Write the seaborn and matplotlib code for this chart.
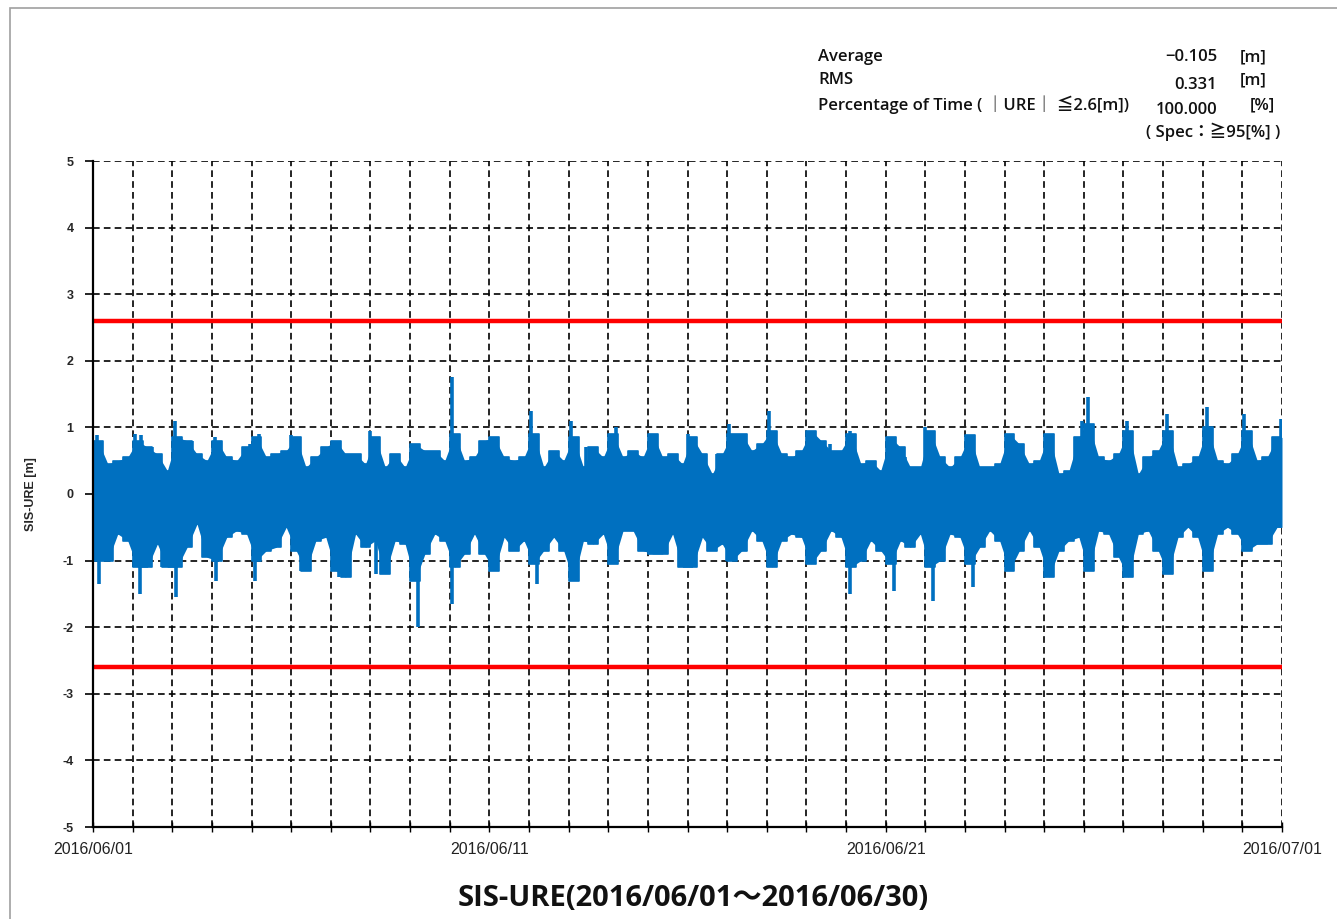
import numpy as np
import pandas as pd
import matplotlib
matplotlib.use("Agg")
import matplotlib.pyplot as plt
import matplotlib.dates as mdates
from matplotlib.patches import Rectangle
import seaborn as sns

# ---------------- data ----------------
start_date = "2016-06-01"
end_date = "2016-07-01"
# upper envelope of SIS-URE per 6-hour block, days 1..30
upper = [
    0.80, 0.45, 0.50, 0.55,   0.80, 0.70, 0.60, 0.35,   0.85, 0.80, 0.60, 0.50,
    0.80, 0.55, 0.50, 0.70,   0.85, 0.55, 0.60, 0.65,   0.85, 0.40, 0.55, 0.70,
    0.80, 0.60, 0.60, 0.45,   0.85, 0.40, 0.60, 0.40,   0.75, 0.65, 0.65, 0.50,
    0.90, 0.50, 0.55, 0.80,   0.85, 0.55, 0.50, 0.55,   0.90, 0.40, 0.65, 0.50,
    0.85, 0.40, 0.70, 0.55,   0.90, 0.55, 0.65, 0.55,   0.90, 0.55, 0.60, 0.45,
    0.85, 0.60, 0.30, 0.60,   0.90, 0.90, 0.65, 0.75,   0.95, 0.60, 0.55, 0.65,
    0.95, 0.80, 0.65, 0.65,   0.90, 0.45, 0.50, 0.35,   0.85, 0.70, 0.40, 0.40,
    0.95, 0.55, 0.40, 0.55,   0.88, 0.40, 0.40, 0.45,   0.90, 0.75, 0.45, 0.50,
    0.90, 0.30, 0.35, 0.85,   1.05, 0.55, 0.50, 0.60,   0.95, 0.30, 0.55, 0.65,
    0.95, 0.40, 0.45, 0.55,   1.00, 0.50, 0.45, 0.60,   0.95, 0.50, 0.55, 0.85,
]
# lower envelope of SIS-URE per 6-hour block
lower = [
    -1.00, -1.00, -0.60, -0.70,  -1.10, -1.10, -0.75, -1.10,  -1.10, -0.80, -0.45, -0.95,
    -1.00, -0.65, -0.55, -0.60,  -1.00, -0.85, -0.80, -0.50,  -0.85, -1.15, -0.70, -0.65,
    -1.15, -1.25, -0.60, -0.80,  -0.70, -1.20, -0.70, -0.75,  -1.30, -0.90, -0.60, -0.70,
    -1.10, -0.90, -0.60, -0.90,  -1.15, -0.65, -0.85, -0.70,  -1.05, -0.85, -0.65, -0.85,
    -1.30, -0.70, -0.75, -0.60,  -1.05, -0.55, -0.55, -0.85,  -0.90, -0.90, -0.60, -1.10,
    -1.10, -0.65, -0.85, -0.75,  -1.00, -0.85, -0.55, -0.70,  -1.10, -0.70, -0.60, -0.65,
    -1.05, -0.85, -0.55, -0.65,  -1.10, -1.00, -0.70, -0.85,  -1.05, -0.70, -0.80, -0.60,
    -1.10, -1.00, -0.60, -0.65,  -1.05, -0.80, -0.55, -0.70,  -1.15, -0.85, -0.55, -0.80,
    -1.25, -0.85, -0.70, -0.65,  -1.15, -0.55, -0.60, -0.95,  -1.25, -0.60, -0.55, -0.85,
    -1.20, -0.65, -0.50, -0.65,  -1.15, -0.60, -0.50, -0.60,  -0.85, -0.75, -0.75, -0.50,
]
# narrow spikes: day offset from start and value
spike_days = [0.10, 1.05, 1.20, 1.48, 2.07, 2.49, 3.07, 3.96, 4.20, 5.00, 5.80,
              6.20, 7.00, 8.15, 8.60, 9.05, 9.95, 11.05, 11.70, 12.05, 12.45,
              13.20, 13.60, 15.00, 15.74, 16.05, 16.30, 17.05, 18.60, 19.10,
              20.50, 21.00, 23.25, 24.95, 25.10, 26.10, 27.10, 28.10, 29.05, 29.97,
              0.15, 1.18, 1.73, 2.10, 3.10, 4.10, 5.25, 6.20, 7.15, 8.20, 9.05,
              10.10, 11.20, 12.20, 14.95, 16.00, 17.05, 18.05, 19.10, 20.20,
              21.20, 22.20, 23.05, 24.05, 25.20, 26.20, 27.15, 28.05]
spike_vals = [0.88, 0.90, 0.88, 0.70, 1.10, 0.80, 0.85, 0.75, 0.90, 0.88, 0.70,
              0.80, 0.95, 0.75, 0.65, 1.75, 0.80, 1.25, 0.65, 1.10, 0.70,
              1.00, 0.65, 0.90, 0.60, 1.05, 0.90, 1.25, 0.75, 0.95,
              0.55, 1.00, 0.75, 1.10, 1.45, 1.10, 1.20, 1.30, 1.20, 1.12,
              -1.35, -1.50, -1.10, -1.55, -1.30, -1.30, -1.15, -1.25, -1.20, -2.00,
              -1.65, -1.15, -1.35, -1.30, -1.10, -1.00, -1.10, -1.05, -1.50, -1.45,
              -1.60, -1.40, -1.15, -1.25, -1.15, -1.25, -1.20, -1.15]
limit = 2.6
yticks = [-5, -4, -3, -2, -1, 0, 1, 2, 3, 4, 5]
xtick_dates = ["2016-06-01", "2016-06-11", "2016-06-21", "2016-07-01"]
stat_labels = ["Average", "RMS", "Percentage of Time ( ｜URE｜ ≦2.6[m])"]
stat_values = ["−0.105", "0.331", "100.000"]
stat_units = ["[m]", "[m]", "[%]"]
spec_text = "( Spec：≧95[%] )"
title = "SIS-URE(2016/06/01～2016/06/30)"
ylabel = "SIS-URE [m]"

# ---------------- build frames ----------------
t0 = pd.Timestamp(start_date)
t1 = pd.Timestamp(end_date)
times = t0 + pd.to_timedelta(np.arange(len(upper)) * 6 + 3, unit="h")
df = pd.DataFrame({"time": times, "upper": upper, "lower": lower})
edge = pd.DataFrame({"time": [t0, t1],
                     "upper": [upper[0], upper[-1]],
                     "lower": [lower[0], lower[-1]]})
df = pd.concat([edge.iloc[[0]], df, edge.iloc[[1]]], ignore_index=True)
spikes = pd.DataFrame({"time": t0 + pd.to_timedelta(np.array(spike_days) * 24, unit="h"),
                       "value": spike_vals})

# ---------------- figure ----------------
sns.set_style("white")
plt.rcParams["font.family"] = ["Open Sans", "Noto Sans CJK JP", "DejaVu Sans"]

W, H = 1337, 919
fig = plt.figure(figsize=(W / 100, H / 100), dpi=100)
fig.patches.append(Rectangle((10 / W, -0.01), 1.02, 1 - 8 / H + 0.01,
                             transform=fig.transFigure, fill=False,
                             edgecolor="#a0a0a0", lw=1.2))
ax = fig.add_axes([93 / W, 1 - 827 / H, (1282 - 93) / W, (827 - 161) / H])

blue = "#0070C0"
# smooth ramps plus flat-topped bursts, as in the reference trace
ax.fill_between(df["time"], df["lower"], df["upper"], color=blue, lw=0, zorder=3)
ax.fill_between(df["time"], df["lower"], df["upper"], step="mid",
                color=blue, lw=0, zorder=3)
sns.lineplot(data=df, x="time", y="upper", ax=ax, color=blue, lw=1.2,
             drawstyle="steps-mid", zorder=3)
sns.lineplot(data=df, x="time", y="lower", ax=ax, color=blue, lw=1.2,
             drawstyle="steps-mid", zorder=3)
ax.vlines(spikes["time"], 0, spikes["value"], colors=blue, lw=2.6, zorder=3)

ax.axhline(limit, color="#FF0000", lw=3.2, zorder=4)
ax.axhline(-limit, color="#FF0000", lw=3.2, zorder=4)

ax.set_xlim(t0, t1)
ax.set_ylim(-5, 5)
ax.set_yticks(yticks)
ax.set_yticklabels([str(v) for v in yticks], fontsize=9, fontweight="bold",
                   family="Liberation Sans")
ax.set_xticks(pd.to_datetime(xtick_dates))
ax.xaxis.set_major_formatter(mdates.DateFormatter("%Y/%m/%d"))
ax.xaxis.set_minor_locator(mdates.DayLocator())
for lab in ax.get_xticklabels():
    lab.set_fontsize(11.5)
    lab.set_family(["Liberation Sans Narrow", "Liberation Sans"])
    lab.set_color("#222222")

ax.grid(False)
gkw = dict(color="black", lw=1.2, ls=(0, (4, 2.5)), zorder=2)
for v in yticks:
    ax.axhline(v, **gkw)
for d in pd.date_range(start_date, end_date, freq="D")[1:]:
    ax.axvline(d, **gkw)

ax.tick_params(axis="y", which="major", direction="out", length=6, width=1.2,
               color="black", pad=8, left=True)
ax.tick_params(axis="x", which="both", direction="inout", length=7, width=1,
               color="black", pad=7, bottom=True)
for s in ["top", "right"]:
    ax.spines[s].set_visible(False)
for s in ["left", "bottom"]:
    ax.spines[s].set_color("black")
    ax.spines[s].set_linewidth(1.6)
    ax.spines[s].set_zorder(5)

ax.set_xlabel("")
ax.set_ylabel(ylabel, fontsize=9, fontweight="bold", family="Liberation Sans",
              labelpad=18)

# ---------------- stats text ----------------
fs = 12
tkw = dict(fontsize=fs, fontweight="semibold", va="center", color="#111111")
label_y = [57, 80, 105]
value_y = [57, 85, 110]
unit_x = [1240, 1240, 1250]
for lab, ly in zip(stat_labels, label_y):
    fig.text(818 / W, 1 - ly / H, lab, ha="left", **tkw)
for val, vy in zip(stat_values, value_y):
    fig.text(1217 / W, 1 - vy / H, val, ha="right", **tkw)
for u, ux, ly in zip(stat_units, unit_x, label_y):
    fig.text(ux / W, 1 - ly / H, u, ha="left", **tkw)
fig.text(1280 / W, 1 - 132 / H, spec_text, ha="right", **tkw)

fig.text(693 / W, 1 - 898 / H, title, fontsize=21, fontweight="bold",
         ha="center", va="center", color="#111111")

fig.savefig("out.png", dpi=100)
